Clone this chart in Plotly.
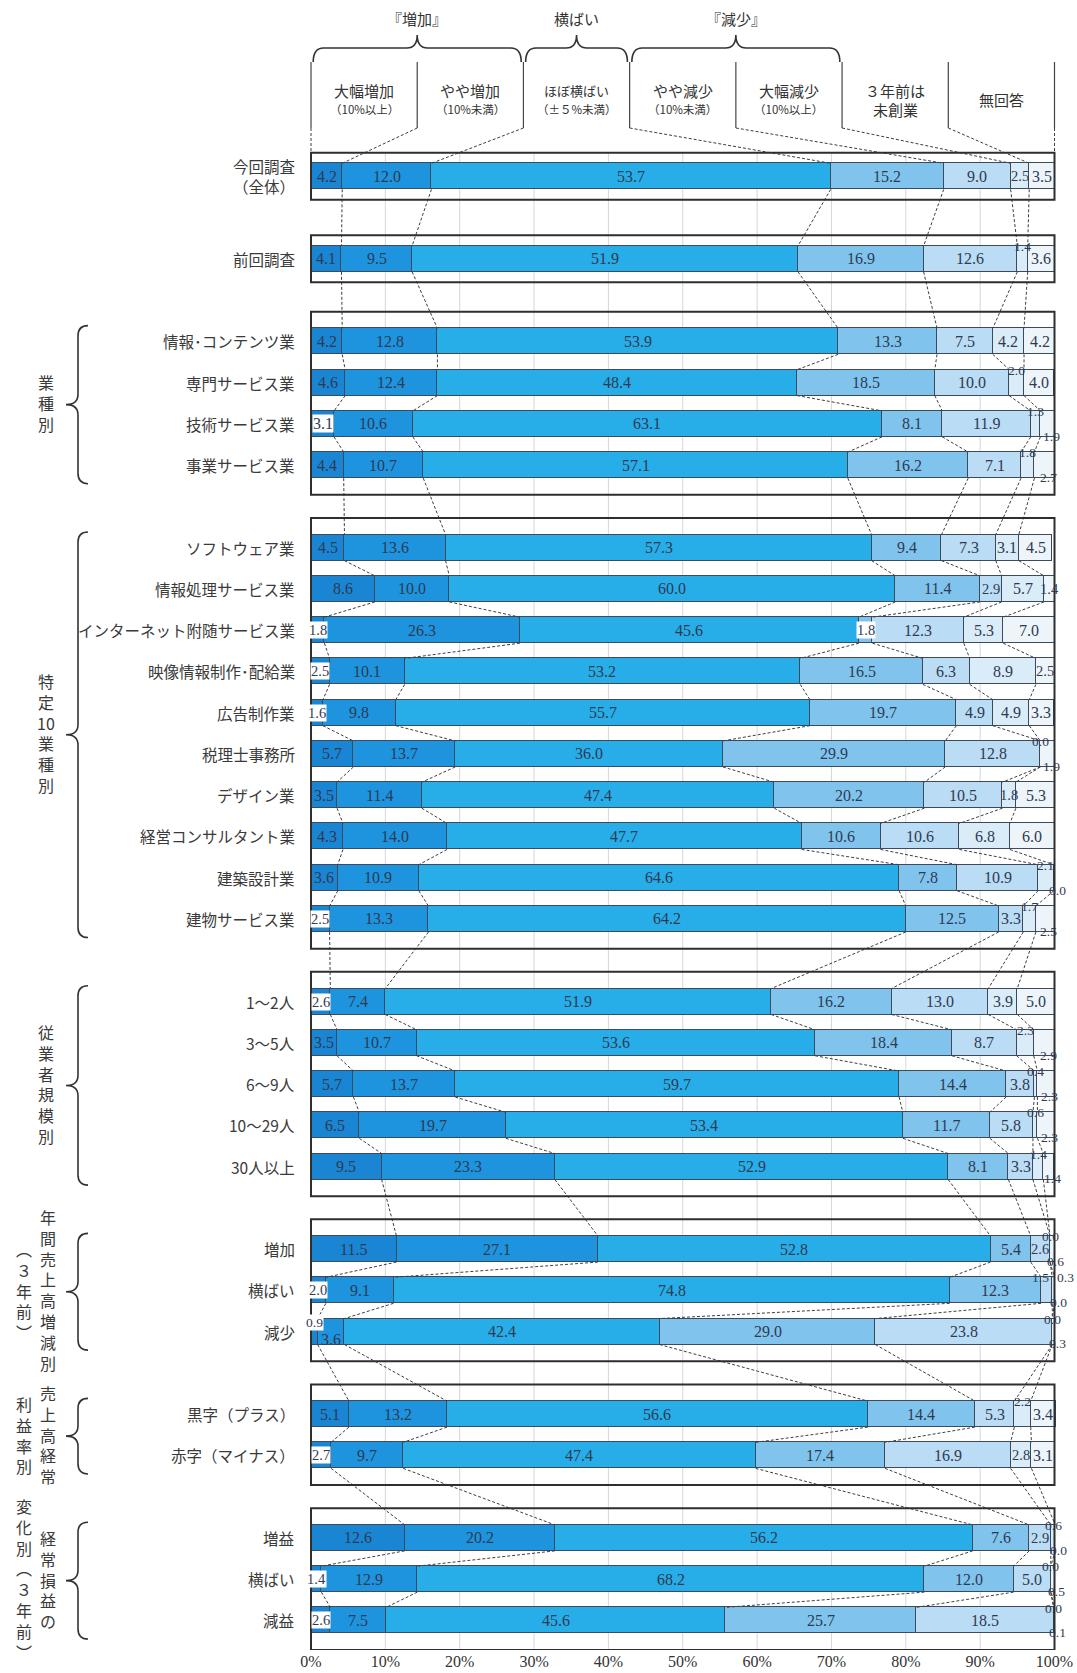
import plotly.graph_objects as go

# ---------------------------------------------------------------- data
categories = ["大幅増加", "やや増加", "ほぼ横ばい", "やや減少", "大幅減少", "３年前は未創業", "無回答"]

row_labels = [
    "今回調査<br>（全体）", "前回調査",
    "情報･コンテンツ業", "専門サービス業", "技術サービス業", "事業サービス業",
    "ソフトウェア業", "情報処理サービス業", "インターネット附随サービス業", "映像情報制作･配給業",
    "広告制作業", "税理士事務所", "デザイン業", "経営コンサルタント業", "建築設計業", "建物サービス業",
    "1～2人", "3～5人", "6～9人", "10～29人", "30人以上",
    "増加", "横ばい", "減少",
    "黒字（プラス）", "赤字（マイナス）",
    "増益", "横ばい", "減益",
]
group_sizes = [1, 1, 4, 10, 5, 3, 2, 3]

# share of respondents (%) per category, one value per row above
large_increase = [4.2, 4.1, 4.2, 4.6, 3.1, 4.4, 4.5, 8.6, 1.8, 2.5, 1.6, 5.7, 3.5, 4.3, 3.6, 2.5,
                  2.6, 3.5, 5.7, 6.5, 9.5, 11.5, 2.0, 0.9, 5.1, 2.7, 12.6, 1.4, 2.6]
small_increase = [12.0, 9.5, 12.8, 12.4, 10.6, 10.7, 13.6, 10.0, 26.3, 10.1, 9.8, 13.7, 11.4, 14.0, 10.9, 13.3,
                  7.4, 10.7, 13.7, 19.7, 23.3, 27.1, 9.1, 3.6, 13.2, 9.7, 20.2, 12.9, 7.5]
flat = [53.7, 51.9, 53.9, 48.4, 63.1, 57.1, 57.3, 60.0, 45.6, 53.2, 55.7, 36.0, 47.4, 47.7, 64.6, 64.2,
        51.9, 53.6, 59.7, 53.4, 52.9, 52.8, 74.8, 42.4, 56.6, 47.4, 56.2, 68.2, 45.6]
small_decrease = [15.2, 16.9, 13.3, 18.5, 8.1, 16.2, 9.4, 11.4, 1.8, 16.5, 19.7, 29.9, 20.2, 10.6, 7.8, 12.5,
                  16.2, 18.4, 14.4, 11.7, 8.1, 5.4, 12.3, 29.0, 14.4, 17.4, 7.6, 12.0, 25.7]
large_decrease = [9.0, 12.6, 7.5, 10.0, 11.9, 7.1, 7.3, 2.9, 12.3, 6.3, 4.9, 12.8, 10.5, 10.6, 10.9, 3.3,
                  13.0, 8.7, 3.8, 5.8, 3.3, 2.6, 1.5, 23.8, 5.3, 16.9, 2.9, 5.0, 18.5]
not_founded = [2.5, 1.4, 4.2, 2.0, 1.3, 1.8, 3.1, 5.7, 5.3, 8.9, 4.9, 0.0, 1.8, 6.8, 2.1, 1.7,
               3.9, 2.3, 0.4, 0.6, 1.4, 0.0, 0.3, 0.0, 2.2, 2.8, 0.6, 0.0, 0.0]
no_answer = [3.5, 3.6, 4.2, 4.0, 1.9, 2.7, 4.5, 1.4, 7.0, 2.5, 3.3, 1.9, 5.3, 6.0, 0.0, 2.5,
             5.0, 2.9, 2.3, 2.3, 1.4, 0.6, 0.0, 0.3, 3.4, 3.1, 0.0, 0.5, 0.1]

series = [large_increase, small_increase, flat, small_decrease, large_decrease, not_founded, no_answer]

# header texts
header_groups = ["『増加』", "横ばい", "『減少』"]
header_main = ["大幅増加", "やや増加", "ほぼ横ばい", "やや減少", "大幅減少", "３年前は", "無回答"]
header_sub = ["（10%以上）", "（10%未満）", "（±５%未満）", "（10%未満）", "（10%以上）", "未創業", ""]

# group captions written vertically (right column, left column)
group_captions = [
    None, None,
    (["業", "種", "別"], None),
    (["特", "定", "10", "業", "種", "別"], None),
    (list("従業者規模別"), None),
    (list("年間売上高増減別"), ["︵", "３", "年", "前", "︶"]),
    (list("売上高経常"), list("利益率別")),
    (list("経常損益の"), ["変", "化", "別", "︵", "３", "年", "前", "︶"]),
]

x_ticks = [0, 10, 20, 30, 40, 50, 60, 70, 80, 90, 100]

# ---------------------------------------------------------------- styling / geometry
colors = ["#1a85d2", "#1d94dd", "#27ade7", "#80c4ed", "#badcf4", "#d9ecf8", "#edf5fb"]
TEXT = "#2f3a52"
LABEL = "#3a3a3a"
JP = "Noto Sans CJK JP"
NUM = "Liberation Serif"

FIG_W, FIG_H, MB = 1077, 1673, 23
PLOT_H = FIG_H - MB
PX_X0, PX_X100 = 311.0, 1054.5
XS = (PX_X100 - PX_X0) / 100.0
ROW0_PX, UNIT = 176.3, 41.26
BAR_W = 0.63
HALF = BAR_W / 2


def ux(px):
    return (px - PX_X0) / XS


def uy(px):
    return (px - ROW0_PX) / UNIT


# row positions: one blank slot between groups
row_y, group_rows = [], []
pos = 0
for gi, n in enumerate(group_sizes):
    if gi > 0:
        pos += 1
    rows = []
    for _ in range(n):
        rows.append(pos)
        row_y.append(pos)
        pos += 1
    group_rows.append(rows)

n_rows = len(row_labels)
cum = []
for i in range(n_rows):
    c = [0.0]
    for s in series:
        c.append(c[-1] + s[i])
    cum.append(c)

fig = go.Figure()

# stacked bars
for k, s in enumerate(series):
    fig.add_trace(go.Bar(
        y=row_y, x=s, orientation="h", width=BAR_W, name=categories[k],
        marker=dict(color=colors[k], line=dict(color="#3c4a5a", width=1)),
        hoverinfo="skip", showlegend=False,
    ))

# dashed connectors between consecutive bars
cx, cy = [], []
for i in range(n_rows - 1):
    for j in range(1, 7):
        cx += [cum[i][j], cum[i + 1][j], None]
        cy += [row_y[i] + HALF, row_y[i + 1] - HALF, None]

# header: column lines then dashed leads onto the first bar
col_b = [k * 100 / 7 for k in range(8)]
hx, hy = [], []
lead_x, lead_y = [], []
for k in range(8):
    hx += [col_b[k], col_b[k], None]
    hy += [uy(62), uy(128), None]
    target = 0 if k == 0 else (100 if k == 7 else cum[0][k])
    lead_x += [col_b[k], target, None]
    lead_y += [uy(128), row_y[0] - HALF, None]

fig.add_trace(go.Scatter(x=cx + lead_x, y=cy + lead_y, mode="lines",
                         line=dict(color="#3e3e3e", width=1, dash="3px,2px"),
                         hoverinfo="skip", showlegend=False))
fig.add_trace(go.Scatter(x=hx, y=hy, mode="lines",
                         line=dict(color="#444444", width=1.2),
                         hoverinfo="skip", showlegend=False))

shapes = []
box_top = row_y[0] - 0.57
box_bot = row_y[-1] + 0.72

# gridlines
for g in x_ticks[1:-1]:
    shapes.append(dict(type="line", x0=g, x1=g, y0=box_top, y1=box_bot,
                       line=dict(color="#d6d6d6", width=1), layer="below"))

# group frames
for rows in group_rows:
    pad = 0.57 if len(rows) == 1 else 0.72
    shapes.append(dict(type="rect", x0=0, x1=100, y0=rows[0] - pad, y1=rows[-1] + pad,
                       line=dict(color="#2e2e2e", width=2), fillcolor="rgba(0,0,0,0)", layer="above"))


def hbrace(x0, x1, y_end, y_line, y_tip, r):
    xm = (x0 + x1) / 2
    return (f"M {x0},{y_end} Q {x0},{y_line} {x0 + r},{y_line} L {xm - r},{y_line} "
            f"Q {xm},{y_line} {xm},{y_tip} Q {xm},{y_line} {xm + r},{y_line} "
            f"L {x1 - r},{y_line} Q {x1},{y_line} {x1},{y_end}")


def vbrace(y0, y1, x_end, x_line, x_tip, r):
    ym = (y0 + y1) / 2
    return (f"M {x_end},{y0} Q {x_line},{y0} {x_line},{y0 + r} L {x_line},{ym - r} "
            f"Q {x_line},{ym} {x_tip},{ym} Q {x_line},{ym} {x_line},{ym + r} "
            f"L {x_line},{y1 - r} Q {x_line},{y1} {x_end},{y1}")


brace_spans = [(col_b[0], col_b[2]), (col_b[2], col_b[3]), (col_b[3], col_b[5])]
for (a, b) in brace_spans:
    shapes.append(dict(type="path", path=hbrace(a + 0.3, b - 0.3, uy(62), uy(48), uy(35), 1.4),
                       line=dict(color="#333333", width=1.6)))

for gi, rows in enumerate(group_rows):
    if len(rows) > 1:
        shapes.append(dict(type="path",
                           path=vbrace(rows[0] - 0.38, rows[-1] + 0.45, ux(88), ux(78), ux(66), 0.25),
                           line=dict(color="#333333", width=1.6)))

ann = []

# header captions
for gname, (a, b) in zip(header_groups, brace_spans):
    ann.append(dict(x=(a + b) / 2, y=uy(18), text=gname, showarrow=False,
                    font=dict(family=JP, size=15, color="#333333")))
for k in range(7):
    xc = (col_b[k] + col_b[k + 1]) / 2
    if header_sub[k]:
        size_main = 13 if k == 2 else 15
        ann.append(dict(x=xc, y=uy(90), text=header_main[k], showarrow=False,
                        font=dict(family=JP, size=size_main, color="#333333")))
        size_sub = 15 if k == 5 else 11.5
        ann.append(dict(x=xc, y=uy(109), text=header_sub[k], showarrow=False,
                        font=dict(family=JP, size=size_sub, color="#333333")))
    else:
        ann.append(dict(x=xc, y=uy(99), text=header_main[k], showarrow=False,
                        font=dict(family=JP, size=15, color="#333333")))

# row labels
for i, lab in enumerate(row_labels):
    ann.append(dict(x=ux(297), y=row_y[i], text=lab, showarrow=False, xanchor="right",
                    align="right", font=dict(family=JP, size=15.5, color=LABEL)))

# vertical group captions
for gi, cap in enumerate(group_captions):
    if cap is None:
        continue
    rows = group_rows[gi]
    ym = (rows[0] + rows[-1]) / 2
    right, left = cap
    xr = ux(48) if left else ux(46)
    ann.append(dict(x=xr, y=ym, text="<br>".join(right), showarrow=False,
                    font=dict(family=JP, size=16, color=LABEL)))
    if left:
        ann.append(dict(x=ux(24), y=ym, text="<br>".join(left), showarrow=False,
                        font=dict(family=JP, size=16, color=LABEL)))

# value labels: small tail segments are lifted above / dropped below the bar
for i in range(n_rows):
    vals = [s[i] for s in series]
    split_tail = vals[5] < 2.4 and vals[6] < 4.5
    lifted_4 = vals[4] < 2.0
    for k, v in enumerate(vals):
        mid = cum[i][k] + v / 2
        y = row_y[i]
        size = 16 if v >= 3.0 else 14.5
        bg = None
        if k == 0:
            if v < 1.2:
                y -= 0.22
                size = 13.5
            if v < 3.2:
                bg = "white"
        elif k == 1 and v < 4.0:
            y += 0.18
        elif k == 3 and v < 2.5:
            bg = "white"
        elif k == 4 and lifted_4:
            y -= 0.3
            mid -= 0.8
            size = 13.5
        elif k == 5 and split_tail:
            y -= 0.3
            if lifted_4:
                mid += 1.6
            size = 13.5
        elif k == 6 and split_tail and v < 3.0:
            y += 0.3
            mid += 0.5
            size = 13.5
        a = dict(x=mid, y=y, text=f"{v:.1f}", showarrow=False,
                 font=dict(family=NUM, size=size, color=TEXT))
        if bg:
            a.update(bgcolor=bg, borderpad=0)
        ann.append(a)

fig.update_layout(
    width=FIG_W, height=FIG_H,
    margin=dict(l=0, r=0, t=0, b=MB),
    barmode="stack", bargap=0,
    plot_bgcolor="white", paper_bgcolor="white",
    shapes=shapes, annotations=ann, showlegend=False,
    xaxis=dict(range=[ux(0), ux(FIG_W)], tickvals=x_ticks,
               ticktext=[f"{t}%" for t in x_ticks], showgrid=False, zeroline=False,
               showline=False, ticks="", tickfont=dict(family=NUM, size=16, color="#333333")),
    yaxis=dict(range=[uy(PLOT_H), uy(0)], showgrid=False, zeroline=False,
               showticklabels=False, showline=False),
)

fig.write_html("out.html")
